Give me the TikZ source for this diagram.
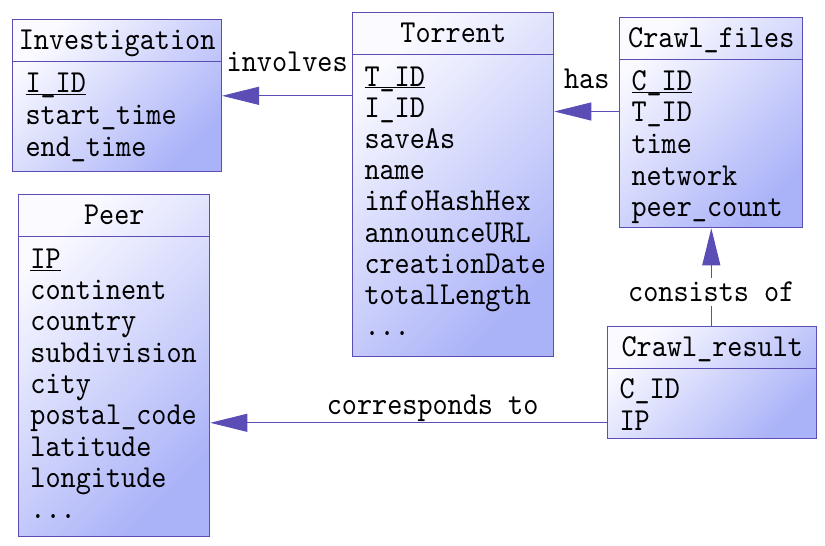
\documentclass[tikz,border=0pt]{standalone}
\usepackage{fontspec}
\newfontfamily\erfont{lmmono10-regular.otf}[FakeStretch=0.90]
\usepackage{tikz}
\usetikzlibrary{positioning,arrows.meta}
\definecolor{erline}{RGB}{90,78,182}
\definecolor{erlight}{RGB}{250,250,255}
\definecolor{erdark}{RGB}{170,178,248}
\newcommand{\pk}[1]{\underline{\smash{#1}}}
\newcommand{\etc}{.{}.{}.}

\begin{document}
\begin{tikzpicture}[x=1pt,y=-1pt,
  entity/.style={draw=erline,line width=1pt,anchor=north west,inner sep=0pt,
    top color=erlight,bottom color=erdark,shading angle=45},
  etitle/.style={font=\erfont\fontsize{32}{38}\selectfont,anchor=base,inner sep=0pt},
  eattr/.style={font=\erfont\fontsize{32}{38}\selectfont,anchor=base west,inner sep=0pt},
  divider/.style={draw=erline,line width=1pt},
  rel/.style={draw=erline,line width=1pt,-{Triangle[length=37pt,width=18pt]}},
  lbl/.style={font=\erfont\fontsize{32}{38}\selectfont,anchor=base,inner sep=0pt}]
\useasboundingbox (0,0) rectangle (825,546);

% Investigation
\node[entity,minimum width=208.7pt,minimum height=152pt] (inv) at (12.3,19.3) {};
\draw[divider] ([yshift=-42.5pt]inv.north west) -- ([yshift=-42.5pt]inv.north east);
\node[etitle] (invT) at ([yshift=-30.5pt]inv.north) {Investigation};
\foreach \a [count=\i] in {\pk{I\_ID},start\_time,end\_time}
  \node[eattr] (inv\i) at ([xshift=13pt,yshift=-42.5pt-31pt-(\i-1)*31.8pt]inv.north west) {\a};

% Torrent
\node[entity,minimum width=201pt,minimum height=344pt] (tor) at (352.3,11.7) {};
\draw[divider] ([yshift=-42.3pt]tor.north west) -- ([yshift=-42.3pt]tor.north east);
\node[etitle] (torT) at ([yshift=-30.5pt]tor.north) {Torrent};
\foreach \a [count=\i] in {\pk{T\_ID},I\_ID,saveAs,name,infoHashHex,announceURL,creationDate,totalLength,\etc}
  \node[eattr] (tor\i) at ([xshift=12pt,yshift=-42.3pt-32pt-(\i-1)*31.2pt]tor.north west) {\a};

% Crawl_files
\node[entity,minimum width=183pt,minimum height=210.6pt] (cf) at (619.3,16.7) {};
\draw[divider] ([yshift=-42.6pt]cf.north west) -- ([yshift=-42.6pt]cf.north east);
\node[etitle] (cfT) at ([yshift=-30.5pt]cf.north) {Crawl\_files};
\foreach \a [count=\i] in {\pk{C\_ID},T\_ID,time,network,peer\_count}
  \node[eattr] (cf\i) at ([xshift=12pt,yshift=-42.6pt-31pt-(\i-1)*31.6pt]cf.north west) {\a};

% Crawl_result
\node[entity,minimum width=209pt,minimum height=112.6pt] (cr) at (607.3,325.7) {};
\draw[divider] ([yshift=-42.6pt]cr.north west) -- ([yshift=-42.6pt]cr.north east);
\node[etitle] (crT) at ([yshift=-30.5pt]cr.north) {Crawl\_result};
\foreach \a [count=\i] in {C\_ID,IP}
  \node[eattr] (cr\i) at ([xshift=12pt,yshift=-42.6pt-30pt-(\i-1)*32.4pt]cr.north west) {\a};

% Peer
\node[entity,minimum width=191pt,minimum height=341.7pt] (peer) at (18.3,194.3) {};
\draw[divider] ([yshift=-42.4pt]peer.north west) -- ([yshift=-42.4pt]peer.north east);
\node[etitle] (peerT) at ([yshift=-30.5pt]peer.north) {Peer};
\foreach \a [count=\i] in {\pk{IP},continent,country,subdivision,city,postal\_code,latitude,longitude,\etc}
  \node[eattr] (peer\i) at ([xshift=12pt,yshift=-42.4pt-31.6pt-(\i-1)*31.3pt]peer.north west) {\a};

% relations
\draw[rel] (tor.west |- inv.east) -- node[lbl,yshift=24pt] (invL) {involves} (inv.east);
\coordinate (hasA) at ([yshift=11pt]cf.west);
\draw[rel] (hasA) -- node[lbl,yshift=22.7pt] (hasL) {has} (tor.east |- hasA);
\draw[rel] (cr.north -| cf.south) -- node[lbl,pos=0.25,fill=white,inner sep=4pt] (consL) {consists of} (cf.south);
\coordinate (corA) at ([yshift=-40.3pt]cr.west);
\draw[rel] (corA) -- node[lbl,pos=0.44,yshift=8pt] (corL) {corresponds to} (peer.east |- corA);
\end{tikzpicture}
\end{document}
